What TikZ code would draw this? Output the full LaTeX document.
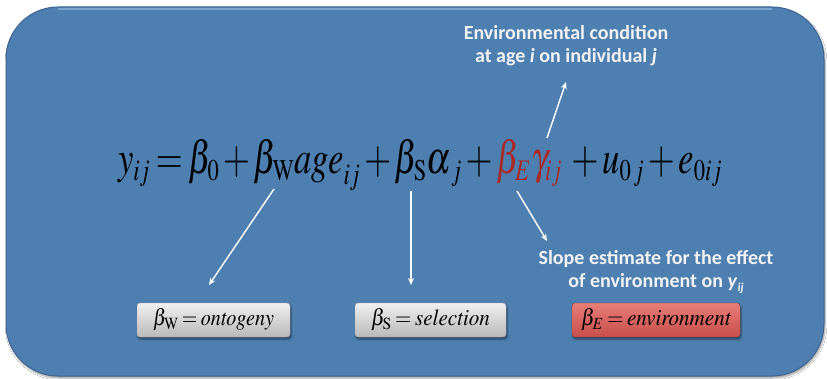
\documentclass[tikz,border=0pt]{standalone}
\usepackage{mathptmx}
\usepackage{fontspec}
\setmainfont{Liberation Serif}
\newfontfamily\lblfont{Carlito}
\usetikzlibrary{arrows.meta,shadows.blur}
\DeclareMathSizes{46}{46}{30}{23}
\definecolor{panelblue}{RGB}{78,127,177}
\definecolor{paneledge}{RGB}{60,100,145}
\definecolor{panelhi}{RGB}{120,165,210}
\definecolor{eqred}{RGB}{168,42,40}
\definecolor{lbltext}{RGB}{242,242,242}
\definecolor{boxgraytop}{RGB}{240,240,240}
\definecolor{boxgraybot}{RGB}{185,185,185}
\definecolor{boxredtop}{RGB}{232,125,120}
\definecolor{boxredbot}{RGB}{200,78,74}
\tikzset{
  panel/.style={fill=panelblue,draw=paneledge,line width=1pt,rounded corners=52pt,
    blur shadow={shadow xshift=1pt,shadow yshift=-2pt,shadow blur steps=6,shadow opacity=40}},
  lbl/.style={font=\lblfont\bfseries\fontsize{20}{23}\selectfont,text=lbltext,align=center,inner sep=0pt},
  arr/.style={draw=white,line width=1.4pt,-{Stealth[length=7pt,width=6pt]}},
  termbox/.style={minimum height=34pt,rounded corners=3pt,inner sep=0pt,
    font=\fontsize{23}{23}\selectfont,
    blur shadow={shadow xshift=1pt,shadow yshift=-2pt,shadow blur steps=5,shadow opacity=50}},
  graybox/.style={termbox,top color=boxgraytop,bottom color=boxgraybot,draw=gray!70},
  redbox/.style={termbox,top color=boxredtop,bottom color=boxredbot,draw=boxredbot!80!black},
}
\newcommand{\tightmath}{\medmuskip=2mu plus 1mu\thickmuskip=3mu plus 1mu}
\begin{document}
\begin{tikzpicture}[x=1pt,y=-1pt]
\useasboundingbox (0,0) rectangle (827,379);
\fill[white] (0,0) rectangle (827,379);
\draw[panel] (6,7) rectangle (824,376);
\draw[panelhi,line width=1.2pt] (58,9) -- (772,9);

\node[anchor=base,inner sep=0pt,font=\fontsize{46}{46}\selectfont\tightmath] (eq) at (420,174)
  {\resizebox{604pt}{\height}{$y_{ij} = \beta_0 + \beta_{\mathrm{W}}\mathit{age}_{ij} + \beta_{\mathrm{S}}\alpha_{\,j} + {\color{eqred}\beta_E\gamma_{ij}}\;+ u_{0\,j} + e_{0ij}$}};

\node[lbl] (envcond) at (566,46) {Environmental condition\\at age \textit{i} on individual \textit{j}};
\node[lbl] (slope) at (656,272) {Slope estimate for the effect\\of environment on \textit{y}\raisebox{-0.35ex}{\fontsize{12}{12}\selectfont\textit{ij}}};

\node[graybox,minimum width=153pt] (ont) at (213.5,320) {\resizebox{121pt}{\height}{$\tightmath\beta_{\mathrm{W}} = \mathit{ontogeny}$}};
\node[graybox,minimum width=151pt] (sel) at (430.5,320) {\resizebox{119pt}{\height}{$\tightmath\beta_{\mathrm{S}} = \mathit{selection}$}};
\node[redbox,minimum width=168pt] (env) at (656,320) {\resizebox{150pt}{\height}{$\tightmath\beta_{E} = \mathit{environment}$}};

\coordinate (aWs) at (274,189);
\coordinate (aWe) at (209,285);
\coordinate (aSs) at (411,191);
\coordinate (aSe) at (411,285);
\coordinate (aEs) at (517,191);
\coordinate (aEe) at (547,241);
\coordinate (aGs) at (547,138);
\coordinate (aGe) at (566,82);
\draw[arr] (aWs) -- (aWe);
\draw[arr] (aSs) -- (aSe);
\draw[arr] (aEs) -- (aEe);
\draw[arr] (aGs) -- (aGe);
\end{tikzpicture}
\end{document}
